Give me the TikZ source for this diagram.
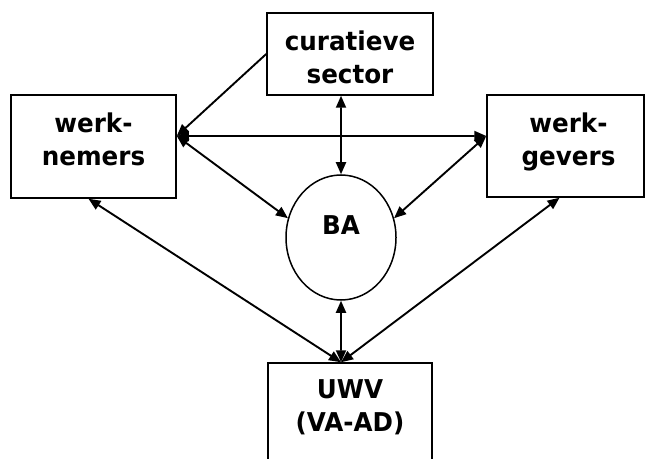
\documentclass[tikz,border=0pt]{standalone}
\usepackage{fontspec}
\setmainfont{DejaVu Sans}[FakeStretch=0.95]
\usetikzlibrary{arrows.meta, positioning, shapes.geometric}

\begin{document}
\begin{tikzpicture}[x=1bp, y=-1bp, every node/.style={draw, align=center, line width=1.5bp}]
    \tikzset{block/.style={rectangle, inner sep=0pt},
             lbl/.style={draw=none, font=\bfseries\fontsize{26}{33}\selectfont},
             one/.style={line width=1.9bp, -{Triangle[length=12bp, width=10bp]}},
             both/.style={line width=1.9bp, {Triangle[length=12bp, width=10bp]}-{Triangle[length=12bp, width=10bp]}}}
    \useasboundingbox (0,0) rectangle (645,459);
    \node[block, minimum width=166bp, minimum height=82bp, label={[lbl, yshift=-3.5bp]center:{curatieve\\sector}}] (cur) at (350,54) {};
    \node[block, minimum width=165bp, minimum height=103bp, label={[lbl, yshift=7.5bp]center:{werk-\\nemers}}] (nemers) at (93.5,146.5) {};
    \node[block, minimum width=157bp, minimum height=102bp, label={[lbl, xshift=3bp, yshift=4bp]center:{werk-\\gevers}}] (gevers) at (565.5,146) {};
    \node[block, minimum width=164bp, minimum height=130bp, label={[lbl, yshift=21bp]center:{UWV\\(VA-AD)}}] (uwv) at (350,428) {};
    \node[ellipse, inner sep=0pt, minimum width=110bp, minimum height=125bp, label={[lbl, yshift=12bp]center:BA}] (ba) at (341,237.5) {};
    % meeting points
    \coordinate (nemersR) at ([yshift=10.5bp]nemers.east);
    \coordinate (geversL) at ([yshift=10bp]gevers.west);
    \coordinate (uwvT) at ([xshift=-9bp]uwv.north);
    \draw[one] (cur.west) -- (nemersR);
    \draw[both] (nemersR) -- (geversL);
    \draw[both] ([xshift=-9bp]cur.south) -- (ba.north);
    \draw[both] (nemersR) -- (ba.160);
    \draw[both] (geversL) -- (ba.20);
    \draw[both] (ba.south) -- (uwvT);
    \draw[both] ([xshift=-5bp]nemers.south) -- (uwvT);
    \draw[both] ([xshift=-6bp]gevers.south) -- (uwvT);
\end{tikzpicture}
\end{document}
